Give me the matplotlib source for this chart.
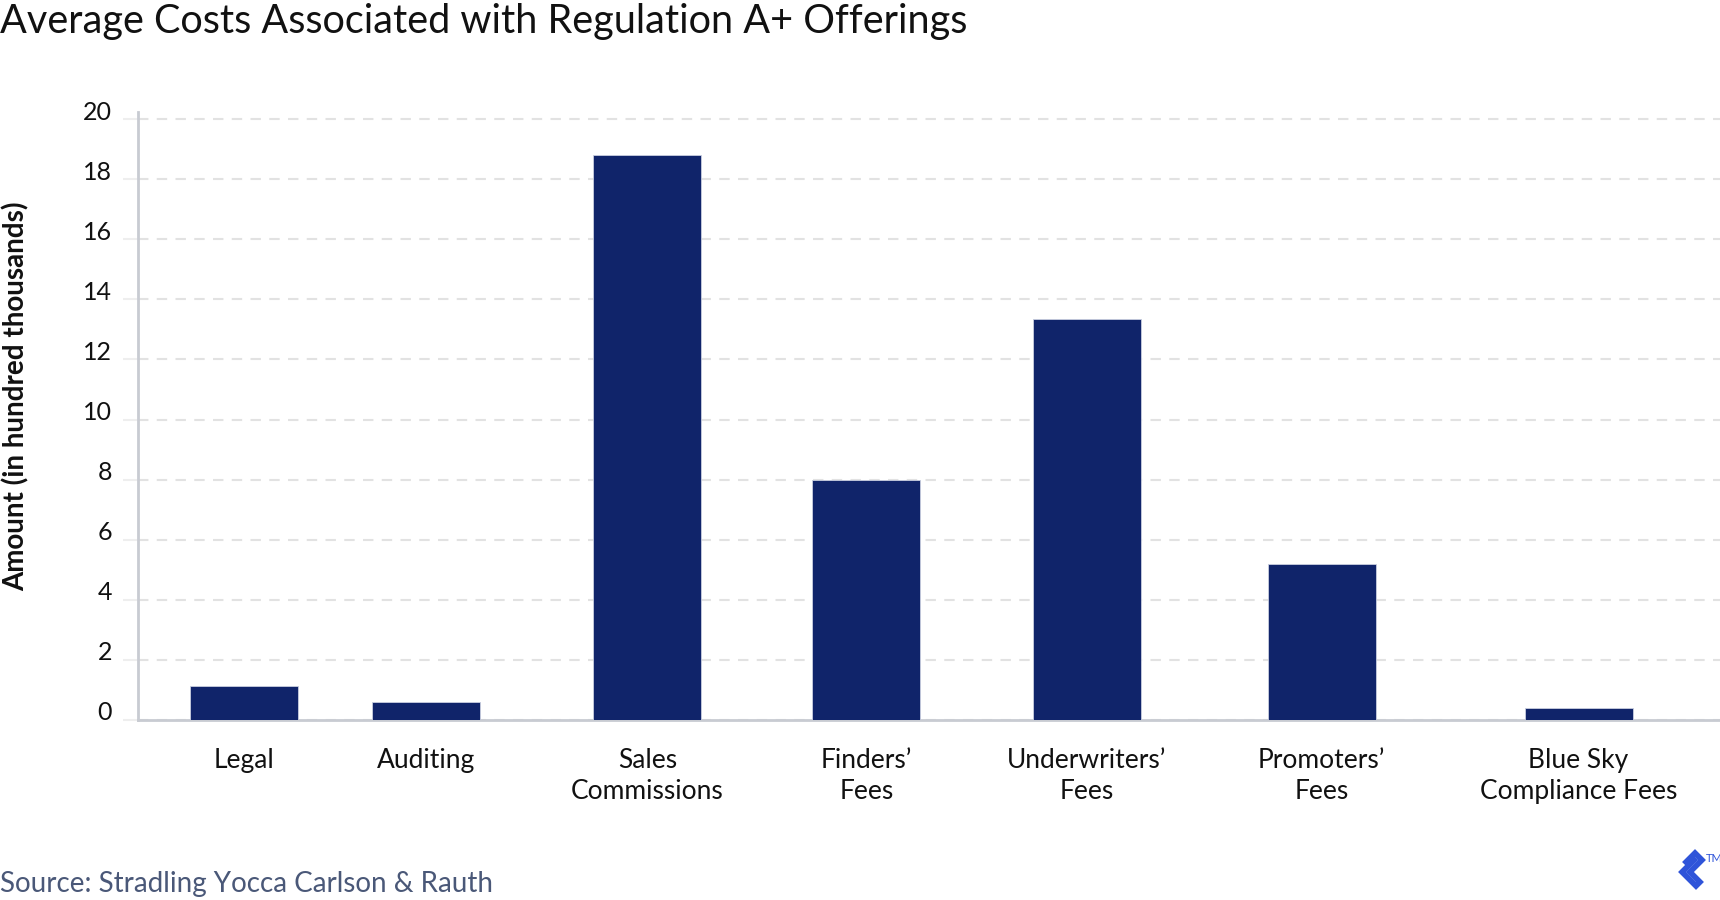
import matplotlib.pyplot as plt
import matplotlib.transforms as mtransforms
from matplotlib.lines import Line2D

categories = ["Legal", "Auditing", "Sales\nCommissions", "Finders’\nFees",
              "Underwriters’\nFees", "Promoters’\nFees", "Blue Sky\nCompliance Fees"]
amounts = [1.14, 0.61, 18.79, 8.0, 13.34, 5.2, 0.41]
yticks = [0, 2, 4, 6, 8, 10, 12, 14, 16, 18, 20]

# bar centres (in bar-width units), spacing copied from the original layout
positions = [0, 1.69, 3.735, 5.765, 7.805, 9.98, 12.36]

plt.rcParams["font.family"] = ["Lato", "DejaVu Sans"]

fig = plt.figure(figsize=(17.2, 9), dpi=100)
W, H = 1720, 900
ax = fig.add_axes([137.7 / W, 1 - 720 / H, 1 - 137.7 / W, (720 - 111.5) / H])

ax.bar(positions, amounts, width=1.0, color="#10246a", edgecolor="#c9cfe0",
       linewidth=0.6, zorder=3)

ax.set_xlim(-0.984, 13.67)
ax.set_ylim(0, 20.25)
ax.set_yticks(yticks)
ax.set_yticklabels([str(t) for t in yticks], fontsize=18, color="#111111")
ax.set_xticks(positions)
ax.set_xticklabels(categories, fontsize=19, color="#111111", linespacing=1.33)

ax.grid(axis="y", color="#e2e2e2", linestyle=(0, (5, 4)), linewidth=1.5, zorder=0)
ax.tick_params(axis="y", length=10.5, width=1.5, color="#eeeeee", pad=8)
ax.tick_params(axis="x", length=0, pad=20)

for s in ["top", "right"]:
    ax.spines[s].set_visible(False)
for s in ["left", "bottom"]:
    ax.spines[s].set_color("#c8cbd2")
    ax.spines[s].set_linewidth(2)

# number labels sit a little above their gridline
offset = mtransforms.ScaledTranslation(0, 9 / 100, fig.dpi_scale_trans)
for lab in ax.get_yticklabels():
    lab.set_transform(lab.get_transform() + offset)

fig.text(0, 1 - 3 / H, "Average Costs Associated with Regulation A+ Offerings",
         fontsize=28.5, color="#111111", ha="left", va="top")
fig.text(16 / W, 1 - 396 / H, "Amount (in hundred thousands)", rotation=90,
         fontsize=20, fontweight="bold", color="#111111", ha="center", va="center")
fig.text(0, 1 - 884 / H, "Source: Stradling Yocca Carlson & Rauth",
         fontsize=20, color="#4a5878", ha="left", va="center")

# rough logo mark in the bottom-right corner
logo = [(1686, 862), (1695, 853), (1702, 860), (1690, 872), (1700, 882), (1696, 886), (1682, 872), (1694, 860)]
xs = [p[0] / W for p in logo]
ys = [1 - p[1] / H for p in logo]
fig.add_artist(Line2D(xs, ys, color="#2f54d9", linewidth=4, transform=fig.transFigure,
                      solid_joinstyle="miter"))
fig.text(1706 / W, 1 - 858 / H, "TM", fontsize=8, color="#2f54d9", ha="left", va="center")

fig.savefig("out.png", dpi=100)
